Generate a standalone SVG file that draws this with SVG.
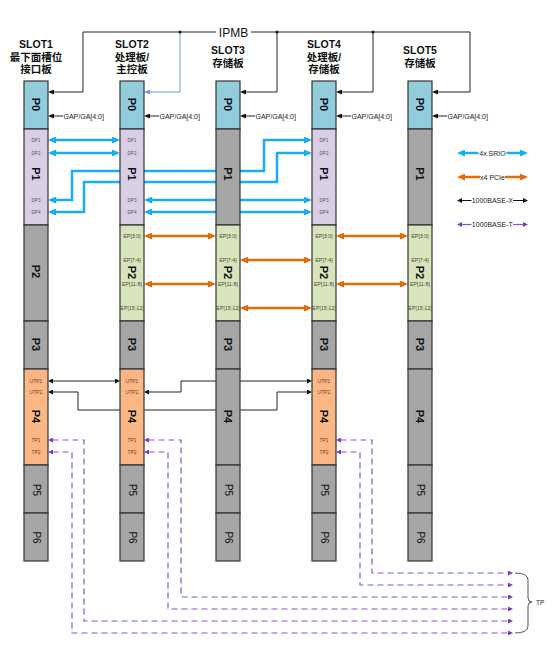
<svg xmlns="http://www.w3.org/2000/svg" width="560" height="658" viewBox="0 0 560 658">
<style>
text{font-family:"Liberation Sans","Noto Sans CJK SC",sans-serif}
.seg{stroke:#333;stroke-width:1.2}
.b{fill:#93CDDD}.l{fill:#D8CFE6}.g{fill:#A6A6A6}.gr{fill:#D7E4BC}.o{fill:#FAB785}
.pl{font-size:11px;font-weight:bold;fill:#111;text-anchor:middle;dominant-baseline:central}
.pl2{font-size:10px;fill:#111;text-anchor:middle;dominant-baseline:central}
.dp{font-size:4.6px;fill:#555;text-anchor:middle}
.ep{font-size:5.3px;fill:#4a4a3a;text-anchor:middle}
.ut{font-size:5px;fill:#6b4226;text-anchor:middle}
.title{font-size:10.5px;font-weight:bold;fill:#111;text-anchor:middle}
.srio{stroke:#1AADEE;stroke-width:2.5;fill:none;marker-start:url(#mb);marker-end:url(#mb)}
.pcie{stroke:#E26B0A;stroke-width:2.5;fill:none;marker-start:url(#mo);marker-end:url(#mo)}
.bx{stroke:#222;stroke-width:1;fill:none;marker-start:url(#mk);marker-end:url(#mk)}
.bt{stroke:#8A55C6;stroke-width:1.2;fill:none;stroke-dasharray:6 4;marker-start:url(#mp);marker-end:url(#mp)}
.ip{stroke:#222;stroke-width:1;fill:none;marker-end:url(#mi)}
.gap{font-size:7px;fill:#222}
.leg{font-size:7px;fill:#222;text-anchor:middle}
</style>
<defs>
<marker id="mb" viewBox="0 0 8 7" refX="0.5" refY="3.5" markerWidth="8" markerHeight="7" markerUnits="userSpaceOnUse" orient="auto-start-reverse"><path d="M0,0 L8,3.5 L0,7 z" fill="#1AADEE"/></marker>
<marker id="mo" viewBox="0 0 8 7" refX="0.5" refY="3.5" markerWidth="8" markerHeight="7" markerUnits="userSpaceOnUse" orient="auto-start-reverse"><path d="M0,0 L8,3.5 L0,7 z" fill="#E26B0A"/></marker>
<marker id="mk" viewBox="0 0 5 5" refX="0.5" refY="2.5" markerWidth="5" markerHeight="5" markerUnits="userSpaceOnUse" orient="auto-start-reverse"><path d="M0,0 L5,2.5 L0,5 z" fill="#111"/></marker>
<marker id="mp" viewBox="0 0 5 5" refX="0.5" refY="2.5" markerWidth="5" markerHeight="5" markerUnits="userSpaceOnUse" orient="auto-start-reverse"><path d="M0,0 L5,2.5 L0,5 z" fill="#7B3FB8"/></marker>
<marker id="mi" viewBox="0 0 6 5" refX="0.5" refY="2.5" markerWidth="6" markerHeight="5" markerUnits="userSpaceOnUse" orient="auto"><path d="M0,0 L6,2.5 L0,5 z" fill="#111"/></marker>
<marker id="mil" viewBox="0 0 6 5" refX="0.5" refY="2.5" markerWidth="6" markerHeight="5" markerUnits="userSpaceOnUse" orient="auto"><path d="M0,0 L6,2.5 L0,5 z" fill="#6C9BDD"/></marker>
</defs>

<g id="connectors">
<!-- IPMB -->
<path class="ip" d="M216,32 H83 V92 H53.5"/>
<path class="ip" d="M251,32 H470 V92 H437.5"/>
<path class="ip" d="M277,32 V92 H245.5"/>
<path class="ip" d="M373,32 V92 H341.5"/>
<path d="M180,32 V92 H149.5" stroke="#6C9BDD" stroke-width="1" fill="none" marker-end="url(#mil)"/>
<circle cx="180" cy="32" r="1.6" fill="#222"/>
<circle cx="277" cy="32" r="1.6" fill="#222"/>
<circle cx="373" cy="32" r="1.6" fill="#222"/>
<text x="233.5" y="36.5" font-size="12" fill="#111" text-anchor="middle">IPMB</text>
<!-- GAP/GA -->
<path class="ip" d="M63,116 H53.5"/><text class="gap" x="63.5" y="118.5">GAP/GA[4:0]</text>
<path class="ip" d="M159,116 H149.5"/><text class="gap" x="159.5" y="118.5">GAP/GA[4:0]</text>
<path class="ip" d="M255,116 H245.5"/><text class="gap" x="255.5" y="118.5">GAP/GA[4:0]</text>
<path class="ip" d="M351,116 H341.5"/><text class="gap" x="351.5" y="118.5">GAP/GA[4:0]</text>
<path class="ip" d="M447,116 H437.5"/><text class="gap" x="447.5" y="118.5">GAP/GA[4:0]</text>
<!-- SRIO -->
<path class="srio" d="M55.5,140 H112.5"/>
<path class="srio" d="M55.5,153 H112.5"/>
<path class="srio" d="M55.5,200 H72 V171 H264 V140 H304.5"/>
<path class="srio" d="M55.5,212 H84 V182 H277 V153 H304.5"/>
<path class="srio" d="M151.5,200 H304.5"/>
<path class="srio" d="M151.5,212 H304.5"/>
<!-- PCIe -->
<path class="pcie" d="M151.5,236 H208.5"/>
<path class="pcie" d="M151.5,284 H208.5"/>
<path class="pcie" d="M247.5,260 H304.5"/>
<path class="pcie" d="M247.5,308 H304.5"/>
<path class="pcie" d="M343.5,236 H400.5"/>
<path class="pcie" d="M343.5,284 H400.5"/>
<!-- 1000BASE-X -->
<path class="bx" d="M52.5,381 H115.5"/>
<path class="bx" d="M52.5,392 H78 V410 H277 V392 H307.5" stroke="#444"/>
<path class="bx" d="M148.5,392 H181 V381 H307.5"/>
<!-- 1000BASE-T -->
<path class="bt" d="M52.5,440 H84 V621 H508.5"/>
<path class="bt" d="M52.5,452 H72 V633 H508.5"/>
<path class="bt" d="M148.5,440 H181 V597 H508.5"/>
<path class="bt" d="M148.5,452 H168 V609 H508.5"/>
<path class="bt" d="M340.5,440 H372 V573 H508.5"/>
<path class="bt" d="M340.5,452 H360 V585 H508.5"/>
<path d="M515,573 Q528,573 528,580 L528,598 Q528,602 532,602 Q528,602 528,606 L528,626 Q528,633 515,633" stroke="#555" stroke-width="1" fill="none"/>
<text x="536" y="604.5" font-size="6.5" fill="#222">TP</text>
</g>

<g id="legend">
<path d="M464.5,153 H478.5" stroke="#1AADEE" stroke-width="2.5" marker-start="url(#mb)"/>
<path d="M506.5,153 H520.5" stroke="#1AADEE" stroke-width="2.5" marker-end="url(#mb)"/>
<text class="leg" x="492.5" y="155.5">4x SRIO</text>
<path d="M464.5,177 H480" stroke="#E26B0A" stroke-width="2.5" marker-start="url(#mo)"/>
<path d="M505,177 H520.5" stroke="#E26B0A" stroke-width="2.5" marker-end="url(#mo)"/>
<text class="leg" x="492.5" y="179.5">x4 PCIe</text>
<path d="M461.5,200.5 H471.5" stroke="#111" stroke-width="1" marker-start="url(#mk)"/>
<path d="M513,200.5 H523.5" stroke="#111" stroke-width="1" marker-end="url(#mk)"/>
<text class="leg" x="492.3" y="203">1000BASE-X</text>
<path d="M461.5,224.5 H471.5" stroke="#8A55C6" stroke-width="1.2" marker-start="url(#mp)"/>
<path d="M513,224.5 H523.5" stroke="#8A55C6" stroke-width="1.2" marker-end="url(#mp)"/>
<text class="leg" x="492.3" y="227">1000BASE-T</text>
</g>

<g id="slot1">
<text class="title" x="36" y="47.5">SLOT1</text>
<text class="title" x="36" y="60.5">最下面槽位</text>
<text class="title" x="36" y="73">接口板</text>
<rect class="seg b" x="24" y="81" width="24" height="48"/>
<rect class="seg l" x="24" y="129" width="24" height="96"/>
<rect class="seg g" x="24" y="225" width="24" height="96"/>
<rect class="seg g" x="24" y="321" width="24" height="48"/>
<rect class="seg o" x="24" y="369" width="24" height="96"/>
<rect class="seg g" x="24" y="465" width="24" height="48"/>
<rect class="seg g" x="24" y="513" width="24" height="48"/>
<text class="pl" transform="translate(36,104.5) rotate(90)">P0</text>
<text class="pl" transform="translate(36,174) rotate(90)">P1</text>
<text class="pl" transform="translate(36,271.5) rotate(90)">P2</text>
<text class="pl" transform="translate(36,344.5) rotate(90)">P3</text>
<text class="pl" transform="translate(36,416.5) rotate(90)">P4</text>
<text class="pl2" transform="translate(36,490) rotate(90)">P5</text>
<text class="pl2" transform="translate(36,537.5) rotate(90)">P6</text>
<text class="dp" x="36" y="141.6">DP1</text>
<text class="dp" x="36" y="154.6">DP2</text>
<text class="dp" x="36" y="201.6">DP3</text>
<text class="dp" x="36" y="213.6">DP4</text>
<text class="ut" x="36" y="382.7">UTP1</text>
<text class="ut" x="36" y="393.7">UTP2</text>
<text class="ut" x="36" y="441.7">TP1</text>
<text class="ut" x="36" y="453.7">TP2</text>
</g>

<g id="slot2">
<text class="title" x="132" y="47.5">SLOT2</text>
<text class="title" x="132" y="60.5">处理板/</text>
<text class="title" x="132" y="73">主控板</text>
<rect class="seg b" x="120" y="81" width="24" height="48"/>
<rect class="seg l" x="120" y="129" width="24" height="96"/>
<rect class="seg gr" x="120" y="225" width="24" height="96"/>
<rect class="seg g" x="120" y="321" width="24" height="48"/>
<rect class="seg o" x="120" y="369" width="24" height="96"/>
<rect class="seg g" x="120" y="465" width="24" height="48"/>
<rect class="seg g" x="120" y="513" width="24" height="48"/>
<text class="pl" transform="translate(132,104.5) rotate(90)">P0</text>
<text class="pl" transform="translate(132,174) rotate(90)">P1</text>
<text class="pl" transform="translate(132,272.5) rotate(90)">P2</text>
<text class="pl" transform="translate(132,344.5) rotate(90)">P3</text>
<text class="pl" transform="translate(132,416.5) rotate(90)">P4</text>
<text class="pl2" transform="translate(132,490) rotate(90)">P5</text>
<text class="pl2" transform="translate(132,537.5) rotate(90)">P6</text>
<text class="dp" x="132" y="141.6">DP1</text>
<text class="dp" x="132" y="154.6">DP2</text>
<text class="dp" x="132" y="201.6">DP3</text>
<text class="dp" x="132" y="213.6">DP4</text>
<text class="ep" x="132" y="237.9">EP[3:0]</text>
<text class="ep" x="132" y="261.9">EP[7:4]</text>
<text class="ep" x="132" y="285.9">EP[11:8]</text>
<text class="ep" x="132" y="309.9">EP[15:12]</text>
<text class="ut" x="132" y="382.7">UTP1</text>
<text class="ut" x="132" y="393.7">UTP2</text>
<text class="ut" x="132" y="441.7">TP1</text>
<text class="ut" x="132" y="453.7">TP2</text>
</g>

<g id="slot3">
<text class="title" x="228" y="54">SLOT3</text>
<text class="title" x="228" y="67">存储板</text>
<rect class="seg b" x="216" y="81" width="24" height="48"/>
<rect class="seg g" x="216" y="129" width="24" height="96"/>
<rect class="seg gr" x="216" y="225" width="24" height="96"/>
<rect class="seg g" x="216" y="321" width="24" height="48"/>
<rect class="seg g" x="216" y="369" width="24" height="96"/>
<rect class="seg g" x="216" y="465" width="24" height="48"/>
<rect class="seg g" x="216" y="513" width="24" height="48"/>
<text class="pl" transform="translate(228,104.5) rotate(90)">P0</text>
<text class="pl" transform="translate(228,174) rotate(90)">P1</text>
<text class="pl" transform="translate(228,272.5) rotate(90)">P2</text>
<text class="pl" transform="translate(228,344.5) rotate(90)">P3</text>
<text class="pl" transform="translate(228,416.5) rotate(90)">P4</text>
<text class="pl2" transform="translate(228,490) rotate(90)">P5</text>
<text class="pl2" transform="translate(228,537.5) rotate(90)">P6</text>
<text class="ep" x="228" y="237.9">EP[3:0]</text>
<text class="ep" x="228" y="261.9">EP[7:4]</text>
<text class="ep" x="228" y="285.9">EP[11:8]</text>
<text class="ep" x="228" y="309.9">EP[15:12]</text>
</g>

<g id="slot4">
<text class="title" x="324" y="47.5">SLOT4</text>
<text class="title" x="324" y="60.5">处理板/</text>
<text class="title" x="324" y="73">存储板</text>
<rect class="seg b" x="312" y="81" width="24" height="48"/>
<rect class="seg l" x="312" y="129" width="24" height="96"/>
<rect class="seg gr" x="312" y="225" width="24" height="96"/>
<rect class="seg g" x="312" y="321" width="24" height="48"/>
<rect class="seg o" x="312" y="369" width="24" height="96"/>
<rect class="seg g" x="312" y="465" width="24" height="48"/>
<rect class="seg g" x="312" y="513" width="24" height="48"/>
<text class="pl" transform="translate(324,104.5) rotate(90)">P0</text>
<text class="pl" transform="translate(324,174) rotate(90)">P1</text>
<text class="pl" transform="translate(324,272.5) rotate(90)">P2</text>
<text class="pl" transform="translate(324,344.5) rotate(90)">P3</text>
<text class="pl" transform="translate(324,416.5) rotate(90)">P4</text>
<text class="pl2" transform="translate(324,490) rotate(90)">P5</text>
<text class="pl2" transform="translate(324,537.5) rotate(90)">P6</text>
<text class="dp" x="324" y="141.6">DP1</text>
<text class="dp" x="324" y="154.6">DP2</text>
<text class="dp" x="324" y="201.6">DP3</text>
<text class="dp" x="324" y="213.6">DP4</text>
<text class="ep" x="324" y="237.9">EP[3:0]</text>
<text class="ep" x="324" y="261.9">EP[7:4]</text>
<text class="ep" x="324" y="285.9">EP[11:8]</text>
<text class="ep" x="324" y="309.9">EP[15:12]</text>
<text class="ut" x="324" y="382.7">UTP1</text>
<text class="ut" x="324" y="393.7">UTP2</text>
<text class="ut" x="324" y="441.7">TP1</text>
<text class="ut" x="324" y="453.7">TP2</text>
</g>

<g id="slot5">
<text class="title" x="420" y="54">SLOT5</text>
<text class="title" x="420" y="67">存储板</text>
<rect class="seg b" x="408" y="81" width="24" height="48"/>
<rect class="seg g" x="408" y="129" width="24" height="96"/>
<rect class="seg gr" x="408" y="225" width="24" height="96"/>
<rect class="seg g" x="408" y="321" width="24" height="48"/>
<rect class="seg g" x="408" y="369" width="24" height="96"/>
<rect class="seg g" x="408" y="465" width="24" height="48"/>
<rect class="seg g" x="408" y="513" width="24" height="48"/>
<text class="pl" transform="translate(420,104.5) rotate(90)">P0</text>
<text class="pl" transform="translate(420,174) rotate(90)">P1</text>
<text class="pl" transform="translate(420,272.5) rotate(90)">P2</text>
<text class="pl" transform="translate(420,344.5) rotate(90)">P3</text>
<text class="pl" transform="translate(420,416.5) rotate(90)">P4</text>
<text class="pl2" transform="translate(420,490) rotate(90)">P5</text>
<text class="pl2" transform="translate(420,537.5) rotate(90)">P6</text>
<text class="ep" x="420" y="237.9">EP[3:0]</text>
<text class="ep" x="420" y="261.9">EP[7:4]</text>
<text class="ep" x="420" y="285.9">EP[11:8]</text>
<text class="ep" x="420" y="309.9">EP[15:12]</text>
</g>
</svg>
